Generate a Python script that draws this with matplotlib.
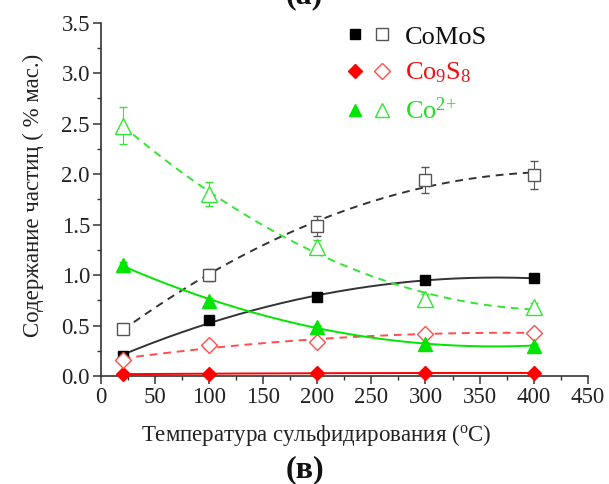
import numpy as np
import matplotlib
matplotlib.use("Agg")
import matplotlib.pyplot as plt
from matplotlib.lines import Line2D
from matplotlib.legend_handler import HandlerTuple
from matplotlib.ticker import MultipleLocator

plt.rcParams['font.family'] = ['Liberation Serif', 'DejaVu Serif']
plt.rcParams['mathtext.default'] = 'regular'

# Данные (температура, °C)
temp = [20, 100, 200, 300, 400]

comos_fill = [0.20, 0.55, 0.78, 0.95, 0.97]
comos_fill_err = [0.02, 0.03, 0.03, 0.04, 0.04]
comos_open = [0.47, 1.00, 1.49, 1.94, 1.99]
comos_open_err = [0.03, 0.06, 0.10, 0.13, 0.14]

co9s8_fill = [0.02, 0.02, 0.03, 0.03, 0.03]
co9s8_fill_err = [0.01, 0.01, 0.01, 0.01, 0.01]
co9s8_open = [0.16, 0.31, 0.34, 0.42, 0.43]
co9s8_open_err = [0.02, 0.02, 0.02, 0.02, 0.02]

co2_fill = [1.10, 0.74, 0.49, 0.32, 0.30]
co2_fill_err = [0.03, 0.03, 0.02, 0.02, 0.02]
co2_open = [2.48, 1.80, 1.28, 0.76, 0.68]
co2_open_err = [0.18, 0.12, 0.07, 0.05, 0.04]

labels = ["CoMoS", "Co$_9$S$_8$", "Co$^{2{+}}$"]

dark = '#333333'
gray = '#555555'
red = '#ff0000'
pink = '#ff4d4d'
green = '#00e600'
lgreen = '#33e633'

fig = plt.figure(figsize=(6.09, 4.84), dpi=100)
ax = fig.add_axes([0.166, 0.2231, 0.799, 0.730])

xs = np.linspace(20, 400, 200)

def fit_line(y, color, ls):
    # сглаживающая кривая (полином 2-й степени)
    p = np.polyfit(temp, y, 2)
    ax.plot(xs, np.polyval(p, xs), color=color, ls=ls, lw=1.4,
            dashes=(4, 3) if ls == '--' else (None, None), zorder=2)

fit_line(comos_fill, dark, '-')
fit_line(comos_open, dark, '--')
fit_line(co9s8_fill, red, '-')
fit_line(co9s8_open, pink, '--')
fit_line(co2_fill, green, '-')
fit_line(co2_open, lgreen, '--')

def pts(y, err, marker, color, filled, ms):
    ax.errorbar(temp, y, yerr=err, fmt=marker, ms=ms,
                mfc=color if filled else 'white', mec=color, mew=1.0,
                ecolor=color, elinewidth=0.8, capsize=3, capthick=0.8,
                zorder=3, clip_on=False)

pts(comos_fill, comos_fill_err, 's', 'black', True, 7.5)
pts(comos_open, comos_open_err, 's', gray, False, 8.5)
pts(co9s8_fill, co9s8_fill_err, 'D', red, True, 7.5)
pts(co9s8_open, co9s8_open_err, 'D', pink, False, 8.5)
pts(co2_fill, co2_fill_err, '^', green, True, 10)
pts(co2_open, co2_open_err, '^', lgreen, False, 11)

ax.set_xlim(0, 450)
ax.set_ylim(0, 3.5)
ax.xaxis.set_major_locator(MultipleLocator(50))
ax.xaxis.set_minor_locator(MultipleLocator(25))
ax.yaxis.set_major_locator(MultipleLocator(0.5))
ax.yaxis.set_minor_locator(MultipleLocator(0.25))
ax.yaxis.set_major_formatter(plt.FuncFormatter(lambda v, _: f"{v:.1f}"))
ax.spines['top'].set_visible(False)
ax.spines['right'].set_visible(False)
for s in ('left', 'bottom'):
    ax.spines[s].set_color('#333333')
    ax.spines[s].set_linewidth(1.2)
ax.tick_params(which='major', direction='out', length=6, width=1.1,
               labelsize=16.5, colors='#333333', labelcolor='#222222', pad=2)
ax.tick_params(which='minor', direction='out', length=3, width=1.0,
               colors='#333333')

fig.text(0.055, 0.597, "Содержание частиц ( % мас.)", fontsize=16.5,
         rotation=90, ha='center', va='center', color='#222222')
fig.text(0.52, 0.102, "Температура сульфидирования ($^o$C)", fontsize=16.5,
         ha='center', va='center', color='#222222')
fig.text(0.5, 0.03, "(в)", fontsize=23, fontweight='bold',
         ha='center', va='center', color='#111111')
fig.text(0.5, 1.008, "(а)", fontsize=23, fontweight='bold',
         ha='center', va='center', color='#111111')

# Легенда: закрашенный и пустой маркер + подпись
handles = [
    (Line2D([], [], ls='', marker='s', ms=7, mfc='black', mec='black'),
     Line2D([], [], ls='', marker='s', ms=8, mfc='white', mec=gray)),
    (Line2D([], [], ls='', marker='D', ms=7, mfc=red, mec=red),
     Line2D([], [], ls='', marker='D', ms=8, mfc='white', mec=pink)),
    (Line2D([], [], ls='', marker='^', ms=9, mfc=green, mec=green),
     Line2D([], [], ls='', marker='^', ms=10, mfc='white', mec=lgreen)),
]
leg = fig.legend(handles, labels,
                 handler_map={tuple: HandlerTuple(ndivide=None, pad=0.3)},
                 loc='upper left', bbox_to_anchor=(0.5675, 0.948),
                 frameon=False, borderpad=0, borderaxespad=0,
                 fontsize=19, handlelength=1.74, labelspacing=0.46,
                 handletextpad=0.51,
                 labelcolor=['#111111', '#ee1111', '#22dd22'])

fig.savefig("out.png", dpi=100)
